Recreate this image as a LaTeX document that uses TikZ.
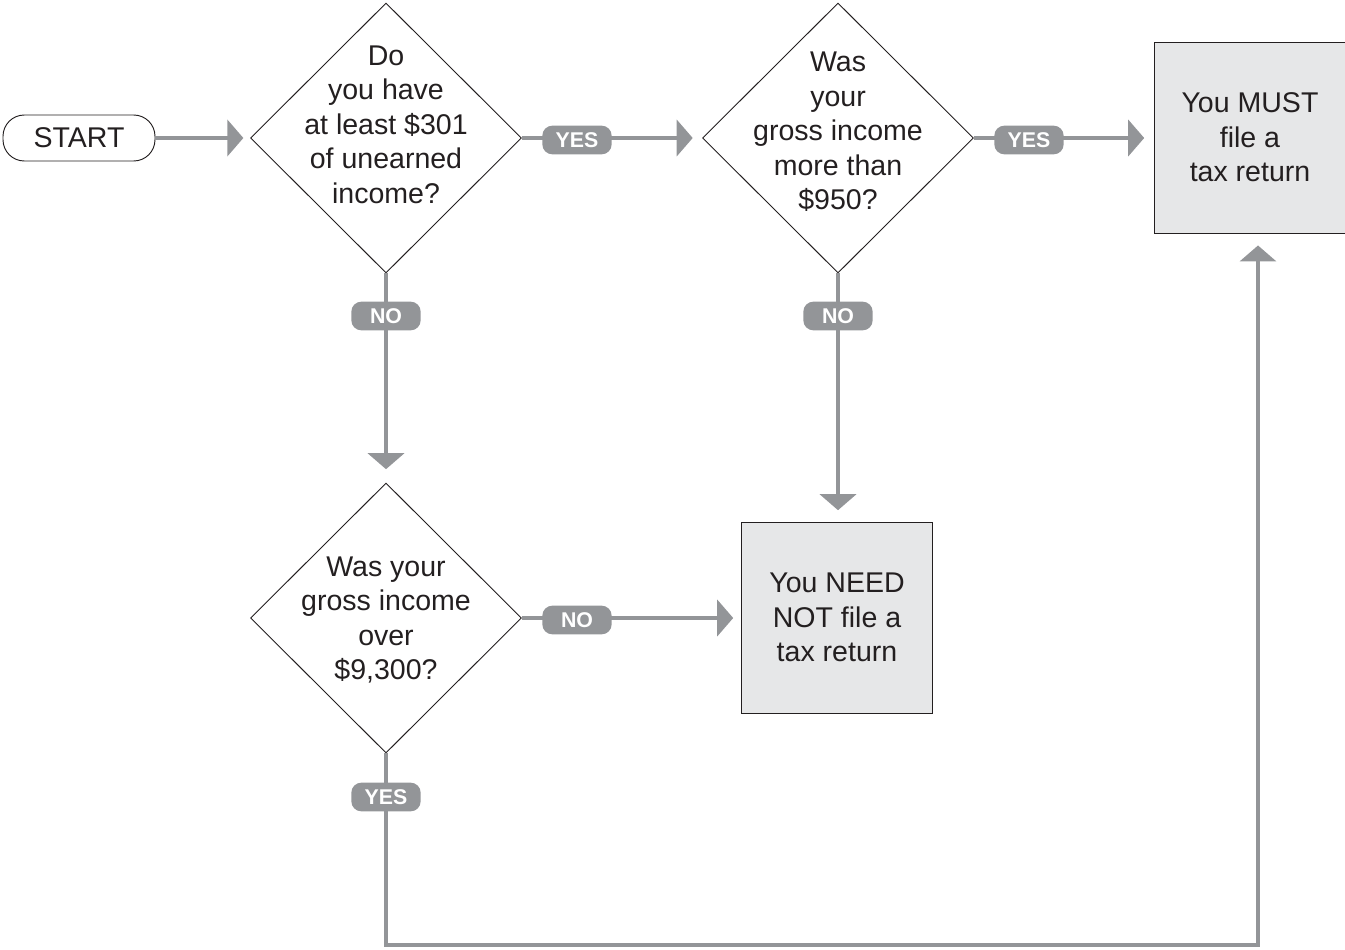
\documentclass[tikz,border=0pt]{standalone}
\usepackage{fontspec}
\setmainfont{Liberation Sans}
\usetikzlibrary{shapes.geometric,arrows.meta}
\definecolor{linegray}{HTML}{939598}
\definecolor{boxfill}{HTML}{E6E7E8}
\definecolor{ink}{HTML}{231F20}
\begin{document}
\begin{tikzpicture}[x=0.75pt,y=-0.75pt,
  every node/.style={text=ink},
  maintext/.style={align=center,font=\fontsize{21.4pt}{25.9pt}\selectfont,inner sep=0pt},
  decision/.style={diamond,draw=ink,line width=0.7pt,minimum width=203.25pt,minimum height=202.5pt,inner sep=0pt},
  endbox/.style={rectangle,draw=ink,line width=0.7pt,fill=boxfill,minimum width=143pt,minimum height=143.25pt,align=center,font=\fontsize{21.4pt}{25.9pt}\selectfont},
  startbox/.style={rectangle,rounded corners=16pt,draw=ink,line width=0.7pt,minimum width=114pt,minimum height=34.5pt,font=\fontsize{21.4pt}{25.9pt}\selectfont},
  pill/.style={rectangle,rounded corners=7.5pt,fill=linegray,text=white,minimum width=52pt,minimum height=21.5pt,inner sep=0pt,font=\fontsize{16pt}{16pt}\selectfont\bfseries},
  conn/.style={draw=linegray,line width=3pt},
  arr/.style={conn,-{Triangle[width=27pt,length=12pt]}}
]
\useasboundingbox (0,0) rectangle (1345,949);

% nodes
\node[startbox] (start) at (79,138) {START};
\node[decision] (d1) at (386,138) {};
\node[decision] (d2) at (838,138) {};
\node[decision] (d3) at (386,618) {};
\node[endbox] (must) at (1250,137.5) {You MUST\\file a\\tax return};
\node[endbox] (need) at (837,617.5) {You NEED\\NOT file a\\tax return};

\node[maintext] (t1) at (386,124.5) {Do\\you have\\at least \$301\\of unearned\\income?};
\node[maintext] (t2) at (838,132) {Was\\your\\gross income\\more than\\\$950?};
\node[maintext] (t3) at (386,620) {Was your\\gross income\\over\\\$9,300?};

% connectors
\draw[arr,shorten >=5pt] (start.east) -- (d1.west);
\draw[arr,shorten >=7pt] (d1.east) -- (d2.west);
\draw[arr,shorten >=7.5pt] (d2.east) -- (d2.east -| must.west);
\draw[arr,shorten >=10pt] (d1.south) -- (d3.north);
\draw[arr,shorten >=8.5pt] (d2.south) -- (d2.south |- need.north);
\draw[arr,shorten >=6pt] (d3.east) -- (d3.east -| need.west);
\coordinate (corner) at (1258,945);
\draw[arr,shorten >=9pt] (d3.south) |- (corner) -- (corner |- must.south);

% labels
\node[pill] (yes1) at (577,140) {YES};
\node[pill] (yes2) at (1029,140) {YES};
\node[pill] (no1) at (386,316) {NO};
\node[pill] (no2) at (838,316) {NO};
\node[pill] (no3) at (577,620) {NO};
\node[pill] (yes3) at (386,797) {YES};
\end{tikzpicture}
\end{document}
